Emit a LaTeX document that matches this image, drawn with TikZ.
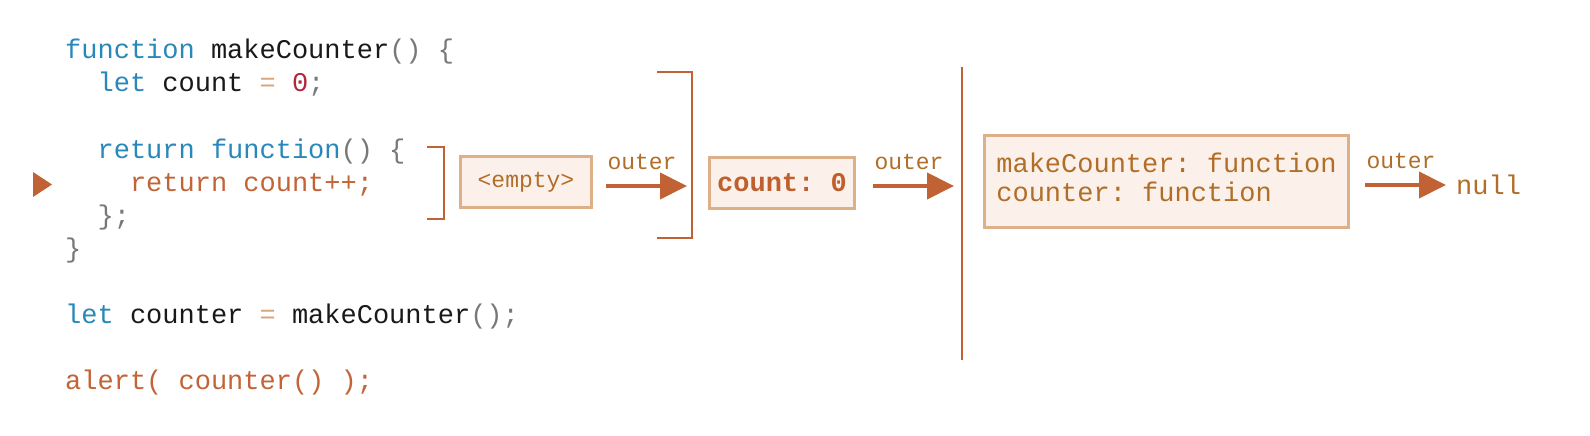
\documentclass[tikz,border=0pt]{standalone}
\usepackage{fontspec}
\setmonofont{Liberation Mono}
\usetikzlibrary{arrows.meta}
\definecolor{jsblue}{RGB}{41,136,186}
\definecolor{jsblack}{RGB}{25,25,25}
\definecolor{jsgrey}{RGB}{120,120,120}
\definecolor{jstan}{RGB}{217,166,124}
\definecolor{jsred}{RGB}{176,40,60}
\definecolor{jsorange}{RGB}{195,100,55}
\definecolor{rust}{RGB}{192,98,52}
\definecolor{boxborder}{RGB}{222,176,138}
\definecolor{boxfill}{RGB}{251,241,234}
\definecolor{ochre}{RGB}{176,110,40}
\definecolor{countcol}{RGB}{190,95,45}
\newcommand\jsB[1]{\textcolor{jsblue}{#1}}
\newcommand\jsK[1]{\textcolor{jsblack}{#1}}
\newcommand\jsG[1]{\textcolor{jsgrey}{#1}}
\newcommand\jsT[1]{\textcolor{jstan}{#1}}
\newcommand\jsR[1]{\textcolor{jsred}{#1}}
\newcommand\jsO[1]{\textcolor{jsorange}{#1}}
\newcommand\jscodefont{\ttfamily\fontsize{27}{33}\selectfont}
\newcommand\jsboxfont{\ttfamily\fontsize{27}{29}\selectfont}
\newcommand\jslblfont{\ttfamily\fontsize{23}{27}\selectfont}
\tikzset{
  code/.style={anchor=base west, inner sep=0pt, font=\jscodefont},
  envbox/.style={draw=boxborder, fill=boxfill, line width=3pt, inner sep=0pt},
  brk/.style={draw=rust, line width=2pt},
  arr/.style={draw=rust, line width=4pt, -{Triangle[length=27pt,width=26pt]}},
  lbl/.style={midway, anchor=base, yshift=16.5pt, xshift=-4.5pt, inner sep=0pt, font=\jslblfont, text=ochre}
}
\begin{document}
\begin{tikzpicture}[x=1pt,y=-1pt]
\useasboundingbox (0,0) rectangle (1590,436);
\fill[white] (0,0) rectangle (1590,436);
% code
\node[code] (l1) at (65,59) {\jsB{function} \jsK{makeCounter}\jsG{() \{}};
\node[code] (l2) at (97.4,92) {\jsB{let} \jsK{count} \jsT{=} \jsR{0}\jsG{;}};
\node[code] (l4) at (97.4,158) {\jsB{return function}\jsG{() \{}};
\node[code] (l5) at (129.8,191) {\jsO{return count++;}};
\node[code] (l6) at (97.4,224) {\jsG{\};}};
\node[code] (l7) at (65,257) {\jsG{\}}};
\node[code] (l9) at (65,323) {\jsB{let} \jsK{counter} \jsT{=} \jsK{makeCounter}\jsG{();}};
\node[code] (l11) at (65,389) {\jsO{alert( counter() );}};
% current line marker
\fill[rust] (33,172) -- (52,184.5) -- (33,197) -- cycle;
% brackets
\draw[brk] (427,147) -- (444,147) -- (444,219) -- (427,219);
\draw[brk] (657,72) -- (692,72) -- (692,238) -- (657,238);
\draw[brk] (962,67) -- (962,360);
\coordinate (b1) at (692,186);
\coordinate (v1) at (962,186);
% environments
\node[envbox, minimum width=131pt, minimum height=51pt, font=\jslblfont, text=ochre] (e) at (526,182) {<empty>};
\node[envbox, minimum width=145pt, minimum height=51pt, font=\jscodefont\bfseries, text=countcol] (c) at (782,183) {count: 0};
\node[envbox, minimum width=364pt, minimum height=92pt, font=\jsboxfont, text=ochre] (m) at (1166.5,181.5) {\begin{tabular}{@{}l@{}}makeCounter: function\\counter: function\end{tabular}};
\node[anchor=west, inner sep=0pt, font=\jsboxfont, text=ochre] (n) at (1456,185) {null};
% outer references
\draw[arr] ([xshift=13pt,yshift=-4pt]e.east) -- ([xshift=-5pt]b1) node[lbl]{outer};
\draw[arr] ([xshift=17pt,yshift=-3pt]c.east) -- ([xshift=-8pt]v1) node[lbl]{outer};
\draw[arr] ([xshift=15pt,yshift=-3.5pt]m.east) -- ([xshift=-10pt]n.west) node[lbl]{outer};
\end{tikzpicture}
\end{document}
